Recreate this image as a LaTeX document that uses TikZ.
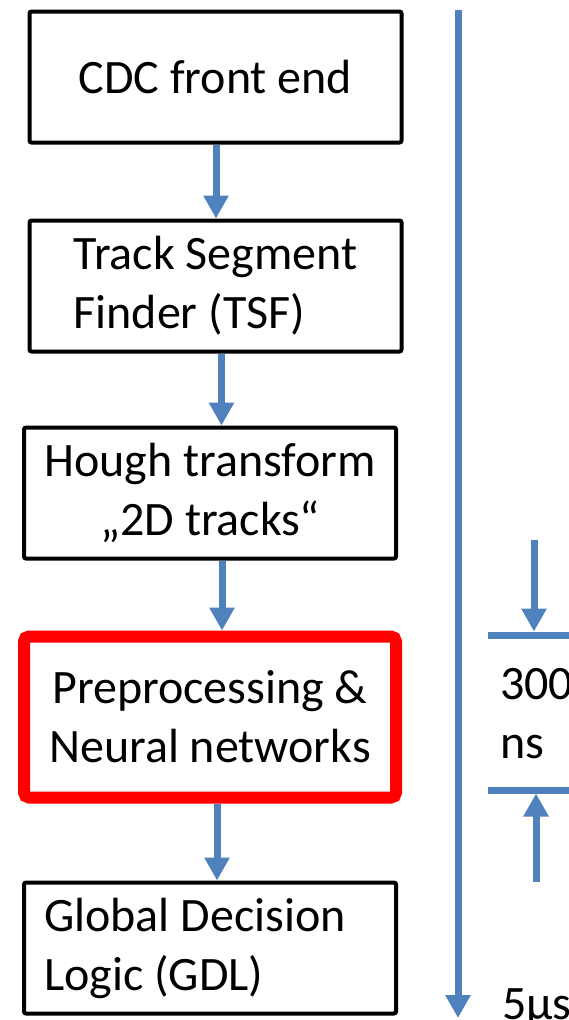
\documentclass[tikz,border=0pt]{standalone}
\usepackage{fontspec}
\setmainfont{Carlito}
\usetikzlibrary{arrows.meta,positioning}
\definecolor{flowblue}{RGB}{79,129,189}

\begin{document}
\begin{tikzpicture}[x=1pt, y=-1pt, font=\fontsize{48}{59}\selectfont, box/.style={draw, line width=4pt, rounded corners=2pt, align=center, minimum width=372pt, minimum height=131pt, inner sep=0pt}, redbox/.style={box, draw=red, line width=12pt, rounded corners=5pt, minimum width=372pt, minimum height=161pt}, arr/.style={-{Triangle[width=24pt,length=23pt]}, line width=7pt, draw=flowblue}, bar/.style={line width=7pt, draw=flowblue}]
\useasboundingbox (0,0) rectangle (569,1020);
\node[box] (cdc) at (215.5,77) {CDC front end};
\node[box, below=74pt of cdc, align=flush left] (tsf) {Track Segment\\Finder (TSF)};
\node[box, below=72pt of tsf, xshift=-5.5pt] (hough) {Hough transform\\„2D tracks“};
\node[redbox, below=70pt of hough] (nn) {Preprocessing \&\\Neural networks};
\node[box, below=77pt of nn, align=flush left, text width=332pt] (gdl) {Global Decision\\Logic (GDL)};
\draw[arr] ([xshift=0.5pt]cdc.south) -- ([xshift=0.5pt]tsf.north); \draw[arr] ([xshift=6pt]tsf.south) -- ([xshift=11.5pt]hough.north); \draw[arr] ([xshift=12pt]hough.south) -- ([xshift=12pt]nn.north); \draw[arr] ([xshift=7pt]nn.south) -- ([xshift=7pt]gdl.north);
% time axis and latency window
\coordinate (tstart) at (458,10); \coordinate (tend) at (458,1018);
\draw[arr] (tstart) -- (tend);
\coordinate (winA) at (488,635); \coordinate (winB) at (575,635); \coordinate (winC) at (488,790); \coordinate (winD) at (575,790);
\draw[bar] (winA) -- (winB); \draw[bar] (winC) -- (winD);
\coordinate (inA) at (534,540); \coordinate (inB) at (536,882);
\draw[arr, shorten >=3.5pt] (inA) -- (inA |- winA); \draw[arr, shorten >=3.5pt] (inB) -- (inB |- winC);
\node[align=flush left, anchor=west, inner sep=0pt] (lat) at (500,714) {300\\ns};
\node[anchor=base west, inner sep=0pt] (total) at (502,1019) {5µs};
\end{tikzpicture}
\end{document}
